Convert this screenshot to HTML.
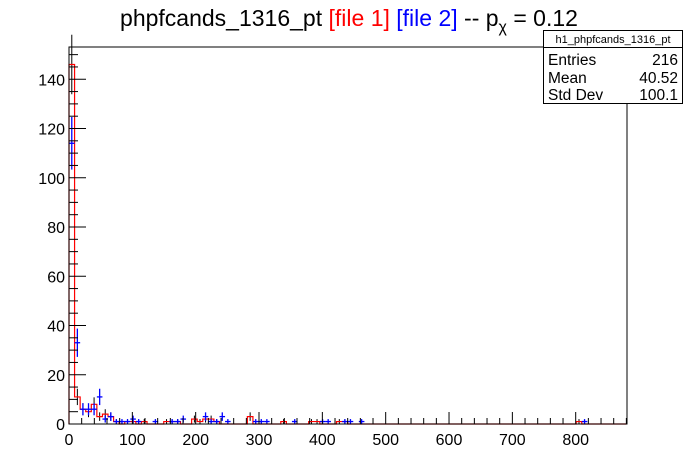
<!DOCTYPE html>
<html><head><meta charset="utf-8"><style>
body{margin:0;background:#fff;}
svg{display:block;font-family:"Liberation Sans",Arial,sans-serif;}
</style></head><body>
<svg id="c" width="696" height="472">
<rect width="696" height="472" fill="#fff"/>
<text x="349" y="26" text-anchor="middle" font-size="23">phpfcands_1316_pt <tspan fill="#f00">[file 1]</tspan> <tspan fill="#00f">[file 2]</tspan> -- p<tspan font-size="16" dy="6">χ</tspan><tspan dy="-6"> = 0.12</tspan></text>
<g id="marks"></g>
<rect x="69" y="47" width="558" height="377" fill="none" stroke="#000" stroke-width="1"/>
<g id="axes"></g>
<g>
<rect x="543.5" y="30.5" width="139" height="73" fill="#fff" stroke="#000"/>
<line x1="543.5" y1="47.5" x2="682.5" y2="47.5" stroke="#000"/>
<text x="613" y="43" text-anchor="middle" font-size="11">h1_phpfcands_1316_pt</text>
<text x="548" y="65" font-size="15.5">Entries</text><text x="678" y="65" font-size="15.5" text-anchor="end">216</text>
<text x="548" y="83" font-size="15.5">Mean</text><text x="678" y="83" font-size="15.5" text-anchor="end">40.52</text>
<text x="548" y="100" font-size="15.5">Std Dev</text><text x="678" y="100" font-size="15.5" text-anchor="end">100.1</text>
</g>
</svg>
<script>
const binWidth = 8.8;
const redBins = [0,1,2,3,4,5,6,7,8,10,11,13,17,18,19,22,23,24,25,26,32,38,43,44,48,49,91];
const redValues = [146,11,6,5,8,3,4,3,1,1,1,1,1,1,1,2,1,2,2,1,3,1,1,1,1,1,1];
const blueBins = [0,1,2,3,4,5,6,7,8,9,10,11,12,15,18,19,20,24,25,26,27,28,33,34,35,40,45,46,49,50,52,92];
const blueValues = [114,33,6,6,6,11,2,3,1,1,1,2,1,1,1,1,2,3,1,1,3,1,1,1,1,1,1,1,1,1,1,1];
const xTicks = [0,100,200,300,400,500,600,700,800];
const yTicks = [0,20,40,60,80,100,120,140];

const X0=69, X1=627, Y0=424, Y1=47, XMAX=881, YMAX=153.1;
const xs = v => X0 + v*(X1-X0)/XMAX;
const ys = v => Y0 - v*(Y0-Y1)/YMAX;
const NS='http://www.w3.org/2000/svg';
const marks=document.getElementById('marks'), axes=document.getElementById('axes');
function mk(tag, attrs, parent){const e=document.createElementNS(NS,tag);for(const k in attrs)e.setAttribute(k,attrs[k]);parent.appendChild(e);return e;}

// black error bars for file 1
redBins.forEach((b,i)=>{
  const v=redValues[i], cx=xs((b+0.5)*binWidth), e=Math.sqrt(v);
  const g=mk('g',{stroke:'#000','stroke-width':1},marks);
  
  
  mk('line',{x1:cx,y1:ys(v+e),x2:cx,y2:Math.min(Y0,ys(v-e))},g);
});

// red step histogram
const full = new Array(100).fill(0);
redBins.forEach((b,i)=>{full[b]=redValues[i];});
let d='M'+xs(0)+','+ys(0);
for(let i=0;i<100;i++){d+=' L'+xs(i*binWidth)+','+ys(full[i])+' L'+xs((i+1)*binWidth)+','+ys(full[i]);}
d+=' L'+xs(100*binWidth)+','+ys(0);
const red=mk('path',{d:d,fill:'none',stroke:'#f00','stroke-width':1.2},marks);



// blue points with errors
blueBins.forEach((b,i)=>{
  const v=blueValues[i], cx=xs((b+0.5)*binWidth), e=Math.sqrt(v);
  const g=mk('g',{stroke:'#00f','stroke-width':1.3},marks);
  
  
  mk('line',{x1:cx,y1:ys(v+e),x2:cx,y2:Math.min(Y0,ys(v-e))},g);
  mk('line',{x1:xs(b*binWidth),y1:ys(v),x2:xs((b+1)*binWidth),y2:ys(v)},g);
});

// x axis ticks
for(let v=0;v<=XMAX;v+=20){
  const major=v%100===0, x=xs(v);
  mk('line',{x1:x,y1:Y0,x2:x,y2:Y0-(major?12:6),stroke:'#000'},axes);
}
xTicks.forEach(t=>{
  const tx=mk('text',{x:xs(t),y:Y0+21,'text-anchor':'middle','font-size':16},axes);
  tx.textContent=t;
  
  
});
// y axis ticks
for(let v=0;v<=YMAX;v+=5){
  const major=v%20===0, y=ys(v);
  mk('line',{x1:X0,y1:y,x2:X0+(major?17:9),y2:y,stroke:'#000'},axes);
}
yTicks.forEach(t=>{
  const tx=mk('text',{x:X0-4,y:ys(t)+6,'text-anchor':'end','font-size':16},axes);
  tx.textContent=t;
  
  
});
</script>
</body></html>
